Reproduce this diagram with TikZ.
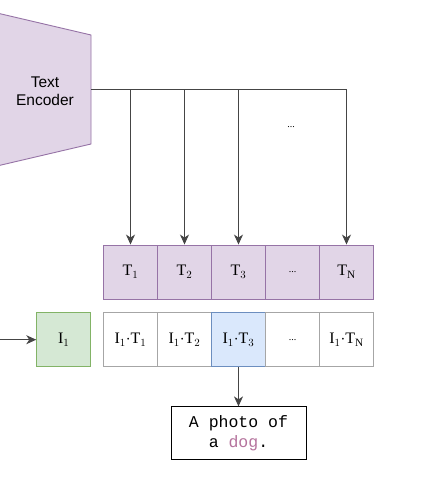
\documentclass[tikz,border=0pt]{standalone}
\usepackage{fontspec}
\setmainfont{Liberation Serif}
\newfontfamily\encfont{Liberation Sans}
\newfontfamily\codefont{Liberation Mono}
\usetikzlibrary{arrows.meta}
\definecolor{purfill}{HTML}{E1D5E7}
\definecolor{purline}{HTML}{9673A6}
\definecolor{grnfill}{HTML}{D5E8D4}
\definecolor{grnline}{HTML}{82B366}
\definecolor{bluefill}{HTML}{DAE8FC}
\definecolor{blueline}{HTML}{6C8EBF}
\definecolor{greyline}{HTML}{A6A6A6}
\definecolor{conn}{HTML}{454545}
\definecolor{dogcol}{HTML}{B5739D}
\tikzset{
  cell/.style={draw, minimum width=54pt, minimum height=54pt, inner sep=0pt, font=\fontsize{16}{18}\selectfont, line width=0.9pt},
  tcell/.style={cell, fill=purfill, draw=purline},
  icell/.style={cell, fill=white, draw=greyline},
  arr/.style={draw=conn, line width=1pt, -{Stealth[length=10pt,width=9pt,inset=3pt]}},
  ln/.style={draw=conn, line width=1pt},
}
\begin{document}
\begin{tikzpicture}[x=1pt,y=1pt]
\useasboundingbox (0,0) rectangle (437,501);
% encoder
\draw[fill=purfill, draw=purline, line width=0.9pt] (-3,488) -- (91,466) -- (91,357) -- (-3,335);
\node[font=\encfont\fontsize{15.5}{18.5}\selectfont, align=center] (enc) at (45,410) {Text\\Encoder};
\coordinate (encout) at (91,411);
% T row
\node[tcell] (t1) at (130.5,229) {T$_1$};
\node[tcell] (t2) at (184.5,229) {T$_2$};
\node[tcell] (t3) at (238.5,229) {T$_3$};
\node[tcell] (tdots) at (292.5,229) {\fontsize{10}{10}\selectfont ...};
\node[tcell] (tn) at (346.5,229) {T$_\mathrm{N}$};
% I row
\node[cell, fill=grnfill, draw=grnline] (i1) at (63.7,161.3) {I$_1$};
\node[icell] (p1) at (130.5,161.3) {I$_1$$\cdot$T$_1$};
\node[icell] (p2) at (184.5,161.3) {I$_1$$\cdot$T$_2$};
\node[cell, fill=bluefill, draw=blueline] (p3) at (238.5,161.3) {I$_1$$\cdot$T$_3$};
\node[icell] (pdots) at (292.5,161.3) {\fontsize{10}{10}\selectfont ...};
\node[icell] (pn) at (346.5,161.3) {I$_1$$\cdot$T$_\mathrm{N}$};
% output
\node[draw=black, line width=1pt, fill=white, minimum width=135pt, minimum height=53pt, align=center, font=\codefont\fontsize{16.5}{20}\selectfont] (out) at (238.5,67.6) {A photo of\\a \textcolor{dogcol}{dog}.};
% dots label
\node[font=\fontsize{10}{10}\selectfont] (dlab) at (291,374) {...};
% connectors
\draw[ln] (encout) -- (tn.north |- encout);
\draw[arr] (encout) -| (t1.north);
\draw[arr] (encout) -| (t2.north);
\draw[arr] (encout) -| (t3.north);
\draw[arr] (encout) -| (tn.north);
\coordinate (inp) at (0,161.3);
\draw[arr] (inp) -- (i1.west);
\draw[arr] (p3.south) -- (out.north);
\end{tikzpicture}
\end{document}
